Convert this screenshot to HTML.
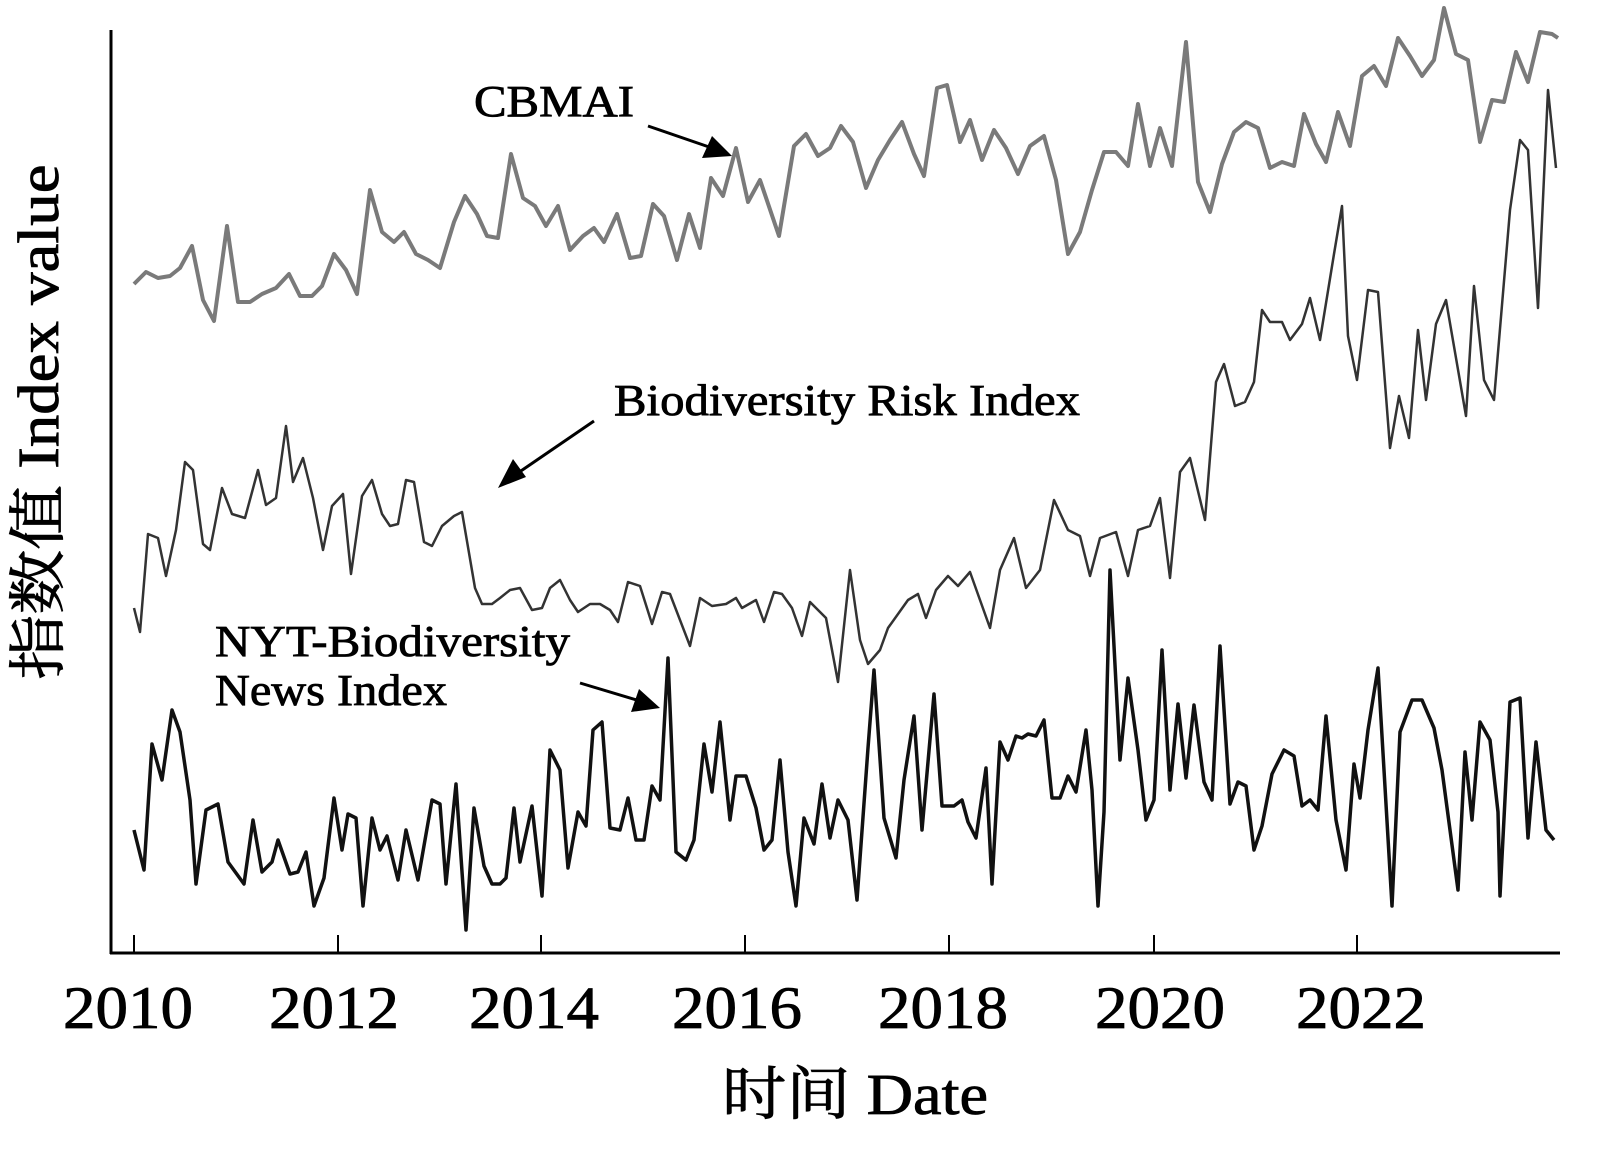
<!DOCTYPE html>
<html><head><meta charset="utf-8"><style>
html,body{margin:0;padding:0;background:#fff;}
svg{display:block;}
text{font-family:"Liberation Serif","Noto Serif CJK SC",serif;fill:#000;stroke:#000;stroke-width:0.8;}
</style></head><body>
<svg width="1612" height="1153" viewBox="0 0 1612 1153" xmlns="http://www.w3.org/2000/svg">
<!-- axes -->
<line x1="111" y1="30" x2="111" y2="954" stroke="#000" stroke-width="3"/>
<line x1="110" y1="953" x2="1560" y2="953" stroke="#000" stroke-width="3"/>
<g stroke="#000" stroke-width="2">
<line x1="134" y1="953" x2="134" y2="935"/><line x1="338" y1="953" x2="338" y2="935"/>
<line x1="541" y1="953" x2="541" y2="935"/><line x1="745" y1="953" x2="745" y2="935"/>
<line x1="949" y1="953" x2="949" y2="935"/><line x1="1154" y1="953" x2="1154" y2="935"/>
<line x1="1357" y1="953" x2="1357" y2="935"/>
</g>
<g font-size="60" text-anchor="middle">
<text x="128" y="1028" textLength="130" lengthAdjust="spacingAndGlyphs">2010</text>
<text x="334" y="1028" textLength="130" lengthAdjust="spacingAndGlyphs">2012</text>
<text x="534" y="1028" textLength="130" lengthAdjust="spacingAndGlyphs">2014</text>
<text x="737" y="1028" textLength="130" lengthAdjust="spacingAndGlyphs">2016</text>
<text x="943" y="1028" textLength="130" lengthAdjust="spacingAndGlyphs">2018</text>
<text x="1160" y="1028" textLength="130" lengthAdjust="spacingAndGlyphs">2020</text>
<text x="1361" y="1028" textLength="130" lengthAdjust="spacingAndGlyphs">2022</text>
</g>
<text x="855" y="1114" font-size="58" text-anchor="middle" textLength="266" lengthAdjust="spacingAndGlyphs">时间 Date</text>
<text transform="translate(58,422) rotate(-90)" font-size="58" text-anchor="middle" textLength="515" lengthAdjust="spacingAndGlyphs">指数值 Index value</text>

<!-- CBMAI -->
<polyline fill="none" stroke="#7a7a7a" stroke-width="4" stroke-linejoin="round" points="134,284 146,272 158,278 170,276 180,268 192,246 203,300 214,321 227,226 238,302 250,302 262,294 276,288 289,274 300,296 312,296 322,286 334,254 346,270 357,294 370,190 382,232 394,242 404,232 416,254 428,260 440,268 454,222 465,196 477,214 487,236 498,238 511,154 523,198 535,206 546,226 558,206 570,250 583,236 594,228 604,242 617,214 630,258 641,256 653,204 664,216 677,260 689,214 700,248 711,178 723,196 736,148 748,202 760,180 779,236 794,146 806,134 818,156 830,148 841,126 853,142 866,188 878,160 890,140 902,122 914,154 924,176 937,88 947,85 960,142 970,120 982,160 994,130 1006,148 1018,174 1030,146 1044,136 1056,180 1068,254 1080,232 1092,190 1104,152 1116,152 1128,166 1138,104 1150,166 1160,128 1172,166 1186,42 1198,182 1210,212 1222,164 1234,132 1246,122 1258,128 1270,168 1282,162 1294,166 1304,114 1316,144 1326,162 1338,112 1350,146 1362,76 1374,66 1386,86 1398,38 1410,56 1422,76 1434,60 1444,8 1456,54 1468,60 1480,142 1492,100 1504,102 1516,52 1528,82 1540,32 1552,34 1558,38"/>
<!-- Biodiversity Risk Index -->
<polyline fill="none" stroke="#333" stroke-width="2.5" stroke-linejoin="round" points="134,608 140,632 148,534 158,538 166,576 176,530 185,462 193,470 203,544 210,550 222,488 232,514 245,518 258,470 266,505 276,498 286,426 293,482 303,458 313,498 323,550 332,506 343,494 351,574 362,496 372,480 382,514 390,526 398,524 406,480 414,482 424,542 432,546 442,526 454,516 462,512 475,588 482,604 492,604 500,598 510,590 520,588 532,610 542,608 550,588 560,580 570,600 578,612 590,604 600,604 610,610 618,622 628,582 640,586 652,624 662,592 670,594 690,646 700,598 712,606 726,604 736,598 742,608 756,600 764,622 774,592 782,594 792,608 802,636 810,602 826,618 838,682 850,570 860,640 868,664 880,650 888,628 908,600 918,594 926,618 936,590 948,576 958,586 970,572 980,600 990,628 1000,570 1014,538 1026,588 1040,570 1054,500 1068,530 1080,536 1090,576 1100,538 1116,532 1128,576 1138,530 1150,526 1160,498 1170,578 1180,472 1190,458 1205,520 1216,382 1224,364 1235,406 1245,402 1254,382 1262,310 1270,322 1282,322 1290,340 1302,324 1310,298 1320,340 1334,254 1342,206 1348,336 1357,380 1368,290 1378,292 1390,448 1399,396 1409,438 1418,330 1426,400 1436,324 1446,300 1466,416 1474,286 1484,380 1494,400 1510,210 1520,140 1528,150 1538,308 1548,90 1556,168"/>
<!-- NYT -->
<polyline fill="none" stroke="#111" stroke-width="3.5" stroke-linejoin="round" points="134,830 144,870 152,744 162,780 172,710 180,732 190,800 196,884 206,810 218,804 228,862 244,884 253,820 262,872 272,862 278,840 290,874 298,872 306,852 314,906 324,878 334,798 342,850 348,814 356,818 363,906 372,818 380,850 387,836 398,880 406,830 418,880 432,800 440,804 446,884 456,784 466,930 474,808 484,866 492,884 500,884 506,878 514,808 520,862 532,806 542,896 550,750 560,770 568,868 578,812 586,826 593,730 602,722 610,828 620,830 628,798 636,840 644,840 652,786 660,800 668,658 676,852 686,860 694,840 704,744 712,792 720,722 730,820 736,776 746,776 756,808 764,850 772,840 780,760 788,852 796,906 804,818 814,844 822,784 830,838 838,800 848,820 857,900 868,748 874,670 884,818 896,858 904,780 914,716 922,830 934,694 942,806 954,806 962,800 968,822 976,838 986,768 992,884 1000,742 1008,760 1016,736 1022,738 1028,734 1036,736 1044,720 1052,798 1060,798 1068,776 1076,792 1086,730 1092,790 1098,906 1104,812 1110,570 1120,760 1128,678 1138,750 1146,820 1154,800 1162,650 1170,790 1178,704 1186,778 1194,705 1204,782 1212,800 1220,646 1230,804 1238,782 1246,786 1254,850 1262,826 1272,774 1284,750 1294,756 1302,806 1310,800 1318,810 1326,716 1336,820 1346,870 1354,764 1360,798 1368,730 1378,668 1392,906 1400,732 1412,700 1422,700 1434,728 1442,770 1458,890 1465,752 1472,820 1480,722 1490,740 1498,812 1500,896 1510,702 1520,698 1528,838 1536,742 1546,830 1554,840"/>

<!-- labels -->
<g font-size="44">
<text x="474" y="116" textLength="160" lengthAdjust="spacingAndGlyphs">CBMAI</text>
<text x="614" y="415" textLength="466" lengthAdjust="spacingAndGlyphs">Biodiversity Risk Index</text>
<text x="215" y="656" textLength="355" lengthAdjust="spacingAndGlyphs">NYT-Biodiversity</text>
<text x="215" y="705" textLength="232" lengthAdjust="spacingAndGlyphs">News Index</text>
</g>
<!-- arrows -->
<g stroke="#000" stroke-width="3">
<line x1="648" y1="126" x2="712" y2="148"/>
<line x1="594" y1="421" x2="515" y2="475"/>
<line x1="580" y1="683" x2="640" y2="701"/>
</g>
<g fill="#000">
<polygon points="732,156 702,158 712,136"/>
<polygon points="498,488 513,459 526,477"/>
<polygon points="660,708 631,712 639,689"/>
</g>
</svg>
</body></html>
